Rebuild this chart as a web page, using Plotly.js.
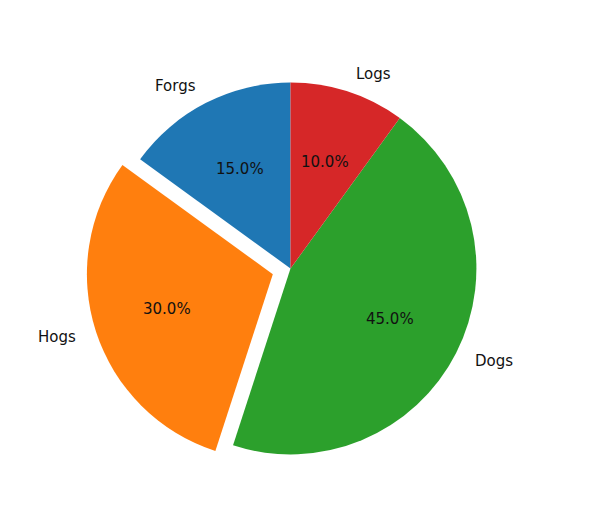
<!DOCTYPE html>
<html>
<head>
<meta charset="utf-8">
<script src="https://cdn.plot.ly/plotly-3.0.1.min.js"></script>
<style>html,body{margin:0;padding:0;background:#fff;}#chart{width:598px;height:519px;}</style>
</head>
<body>
<div id="chart"></div>
<script>
const labels = ["Forgs", "Hogs", "Dogs", "Logs"];
const sizes = [15, 30, 45, 10];
const explode = [0, 0.1, 0, 0];
const colors = ["#1f77b4", "#ff7f0e", "#2ca02c", "#d62728"];

const W = 598, H = 519;
const margin = {l: 86, r: 103, t: 64, b: 46, pad: 0};
const plotW = W - margin.l - margin.r;
const plotH = H - margin.t - margin.b;
const maxPull = Math.max(...explode);
const rPx = Math.min(plotW, plotH) / 2 / (1 + maxPull);

const total = sizes.reduce((a, b) => a + b, 0);
const annotations = [];
let start = 90;
sizes.forEach((v, i) => {
  const span = 360 * v / total;
  const mid = (start + span / 2) * Math.PI / 180;
  start += span;
  const c = Math.cos(mid), s = Math.sin(mid);
  const e = explode[i];
  const lab = (1.1 + e) * rPx, pct = (0.6 + e) * rPx;
  annotations.push({
    xref: "paper", yref: "paper",
    x: 0.5 + lab * c / plotW, y: 0.5 + lab * s / plotH,
    text: labels[i], showarrow: false,
    xanchor: c > 0 ? "left" : "right", yanchor: "middle",
    font: {family: "DejaVu Sans", size: 15, color: "#111"}
  });
  annotations.push({
    xref: "paper", yref: "paper",
    x: 0.5 + pct * c / plotW, y: 0.5 + pct * s / plotH,
    text: (100 * v / total).toFixed(1) + "%", showarrow: false,
    xanchor: "center", yanchor: "middle",
    font: {family: "DejaVu Sans", size: 15, color: "#111"}
  });
});

// counterclockwise pies in Plotly place the first slice to the right of 12 o'clock;
// rotate so that the first slice starts at 12 o'clock (matplotlib startangle=90)
const rotation = -360 * sizes[0] / total;

const trace = {
  type: "pie",
  labels: labels,
  values: sizes,
  pull: explode,
  sort: false,
  direction: "counterclockwise",
  rotation: rotation,
  textinfo: "none",
  hoverinfo: "label+percent",
  marker: {colors: colors, line: {width: 0}},
  showlegend: false
};

const layout = {
  width: W, height: H,
  margin: margin,
  paper_bgcolor: "#fff",
  plot_bgcolor: "#fff",
  showlegend: false,
  annotations: annotations
};

Plotly.newPlot("chart", [trace], layout, {displayModeBar: false, staticPlot: true});
</script>
</body>
</html>
